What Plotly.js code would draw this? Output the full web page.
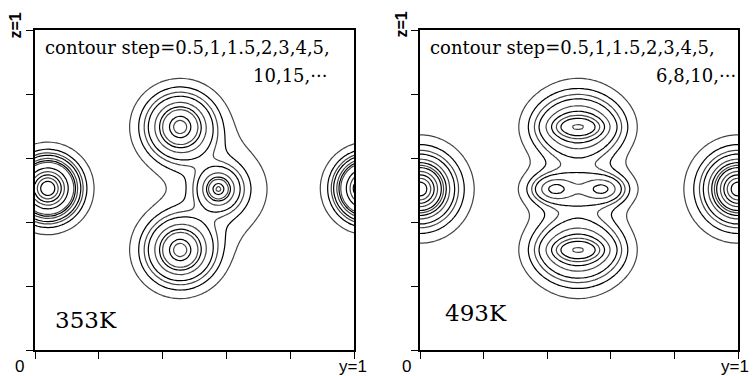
<!DOCTYPE html>
<html><head><meta charset="utf-8">
<script src="https://cdn.plot.ly/plotly-3.0.1.min.js"></script>
<style>html,body{margin:0;padding:0;background:#fff;}#chart{width:755px;height:376px;}</style>
</head><body><div id="chart"></div>
<script>
// contour levels printed on each panel
const levels353 = [0.5, 1, 1.5, 2, 3, 4, 5, 10, 15, 20, 25, 30];
const levels493 = [0.5, 1, 1.5, 2, 3, 4, 5, 6, 8, 10, 12, 14];

// density peaks (y, z position, height, widths)
const peak353Y    = [0.04, 0.04, 1.04, 1.04, 0.455, 0.455, 0.455, 0.455, 0.455, 0.455, 0.575, 0.575, 0.60];
const peak353Z    = [0.505, 0.505, 0.505, 0.505, 0.697, 0.697, 0.697, 0.3125, 0.3125, 0.3125, 0.503, 0.503, 0.503];
const peak353Amp  = [32, 3.2, 32, 3.2, 14, 5, 1.2, 14, 5, 1.2, 12, 4, 1.1];
const peak353SigY = [0.038, 0.074, 0.038, 0.074, 0.022, 0.06, 0.1, 0.022, 0.06, 0.1, 0.013, 0.04, 0.1];
const peak353SigZ = [0.038, 0.074, 0.038, 0.074, 0.022, 0.058, 0.095, 0.022, 0.058, 0.095, 0.013, 0.04, 0.1];

const peak493Y    = [0, 0, 1, 1, 0.497, 0.497, 0.497, 0.497, 0.497, 0.497, 0.418, 0.579, 0.497];
const peak493Z    = [0.503, 0.503, 0.503, 0.503, 0.697, 0.697, 0.697, 0.3125, 0.3125, 0.3125, 0.503, 0.503, 0.503];
const peak493Amp  = [12, 3.6, 12, 3.6, 3, 4, 1.3, 3, 4, 1.3, 2.5, 2.5, 2.1];
const peak493SigY = [0.042, 0.085, 0.042, 0.085, 0.05, 0.08, 0.1, 0.05, 0.08, 0.1, 0.04, 0.04, 0.1];
const peak493SigZ = [0.042, 0.085, 0.042, 0.085, 0.02, 0.055, 0.1, 0.02, 0.055, 0.1, 0.025, 0.025, 0.05];

const tickVals = [0, 0.2, 0.4, 0.6, 0.8, 1];
const tempLabels = ['353K', '493K'];
const stepLine1 = 'contour step=0.5,1,1.5,2,3,4,5,';
const stepLine2 = ['10,15,\u00b7\u00b7\u00b7', '6,8,10,\u00b7\u00b7\u00b7'];

const N = 121;
function densityGrid(PY, PZ, PA, SY, SZ) {
  const xs = [], ys = [], z = [];
  for (let i = 0; i < N; i++) { xs.push(i / (N - 1)); ys.push(i / (N - 1)); }
  for (let j = 0; j < N; j++) {
    const row = [];
    for (let i = 0; i < N; i++) {
      let v = 0;
      for (let k = 0; k < PY.length; k++) {
        const dy = xs[i] - PY[k], dz = ys[j] - PZ[k];
        v += PA[k] * Math.exp(-(dy * dy) / (2 * SY[k] * SY[k]) - (dz * dz) / (2 * SZ[k] * SZ[k]));
      }
      row.push(v);
    }
    z.push(row);
  }
  return {x: xs, y: ys, z: z};
}

const g1 = densityGrid(peak353Y, peak353Z, peak353Amp, peak353SigY, peak353SigZ);
const g2 = densityGrid(peak493Y, peak493Z, peak493Amp, peak493SigY, peak493SigZ);

const traces = [];
function addLevels(g, levels, xa, ya) {
  levels.forEach((L, idx) => {
    traces.push({
      type: 'contour', x: g.x, y: g.y, z: g.z, xaxis: xa, yaxis: ya,
      autocontour: false,
      contours: {start: L, end: L, size: 1, coloring: 'none'},
      line: {color: idx % 2 === 0 ? '#444444' : '#000000', width: 1.2, smoothing: 1},
      showscale: false, hoverinfo: 'skip'
    });
  });
}
addLevels(g1, levels353, 'x', 'y');
addLevels(g2, levels493, 'x2', 'y2');

const W = 755, H = 376;
function ax(domain, anchor) {
  return {
    domain: domain, anchor: anchor, range: [0, 1], showline: true, mirror: true,
    linecolor: '#000', linewidth: 2, ticks: 'outside', ticklen: 7, tickwidth: 1,
    tickcolor: '#000', tickvals: tickVals, showticklabels: false, showgrid: false,
    zeroline: false, fixedrange: true
  };
}
const yDom = [26 / H, 346 / H];

function ann(text, px, py, o) {
  return Object.assign({
    text: text, xref: 'paper', yref: 'paper', x: px / W, y: 1 - py / H,
    showarrow: false, xanchor: 'center', yanchor: 'middle',
    font: {family: 'DejaVu Serif, serif', size: 18, color: '#000'}
  }, o || {});
}
const sans = {family: 'Liberation Sans, Arial, sans-serif', size: 17, color: '#000'};
const sansZ = {family: 'Liberation Sans, Arial, sans-serif', size: 16, color: '#000', weight: 'bold'};
const annotations = [
  ann(stepLine1, 43, 48, {xanchor: 'left'}),
  ann(stepLine2[0], 329, 75, {xanchor: 'right'}),
  ann(tempLabels[0], 53, 320, {xanchor: 'left', font: {family: 'DejaVu Serif, serif', size: 23, color: '#000'}}),
  ann('0', 19, 366, {font: sans}),
  ann('y=1', 353, 366, {font: sans}),
  ann('z=1', 15.5, 25, {font: sansZ, textangle: -90}),
  ann(stepLine1, 428, 48, {xanchor: 'left'}),
  ann(stepLine2[1], 738, 75, {xanchor: 'right'}),
  ann(tempLabels[1], 443, 313, {xanchor: 'left', font: {family: 'DejaVu Serif, serif', size: 23, color: '#000'}}),
  ann('0', 406, 366, {font: sans}),
  ann('y=1', 735, 366, {font: sans}),
  ann('z=1', 401.5, 25, {font: sansZ, textangle: -90})
];

const layout = {
  width: W, height: H, margin: {l: 0, r: 0, t: 0, b: 0},
  paper_bgcolor: '#fff', plot_bgcolor: '#fff', showlegend: false,
  xaxis: ax([35 / W, 354 / W], 'y'),
  yaxis: ax(yDom, 'x'),
  xaxis2: ax([420 / W, 738 / W], 'y2'),
  yaxis2: ax(yDom, 'x2'),
  annotations: annotations
};
Plotly.newPlot('chart', traces, layout, {displayModeBar: false, staticPlot: true});
</script></body></html>
